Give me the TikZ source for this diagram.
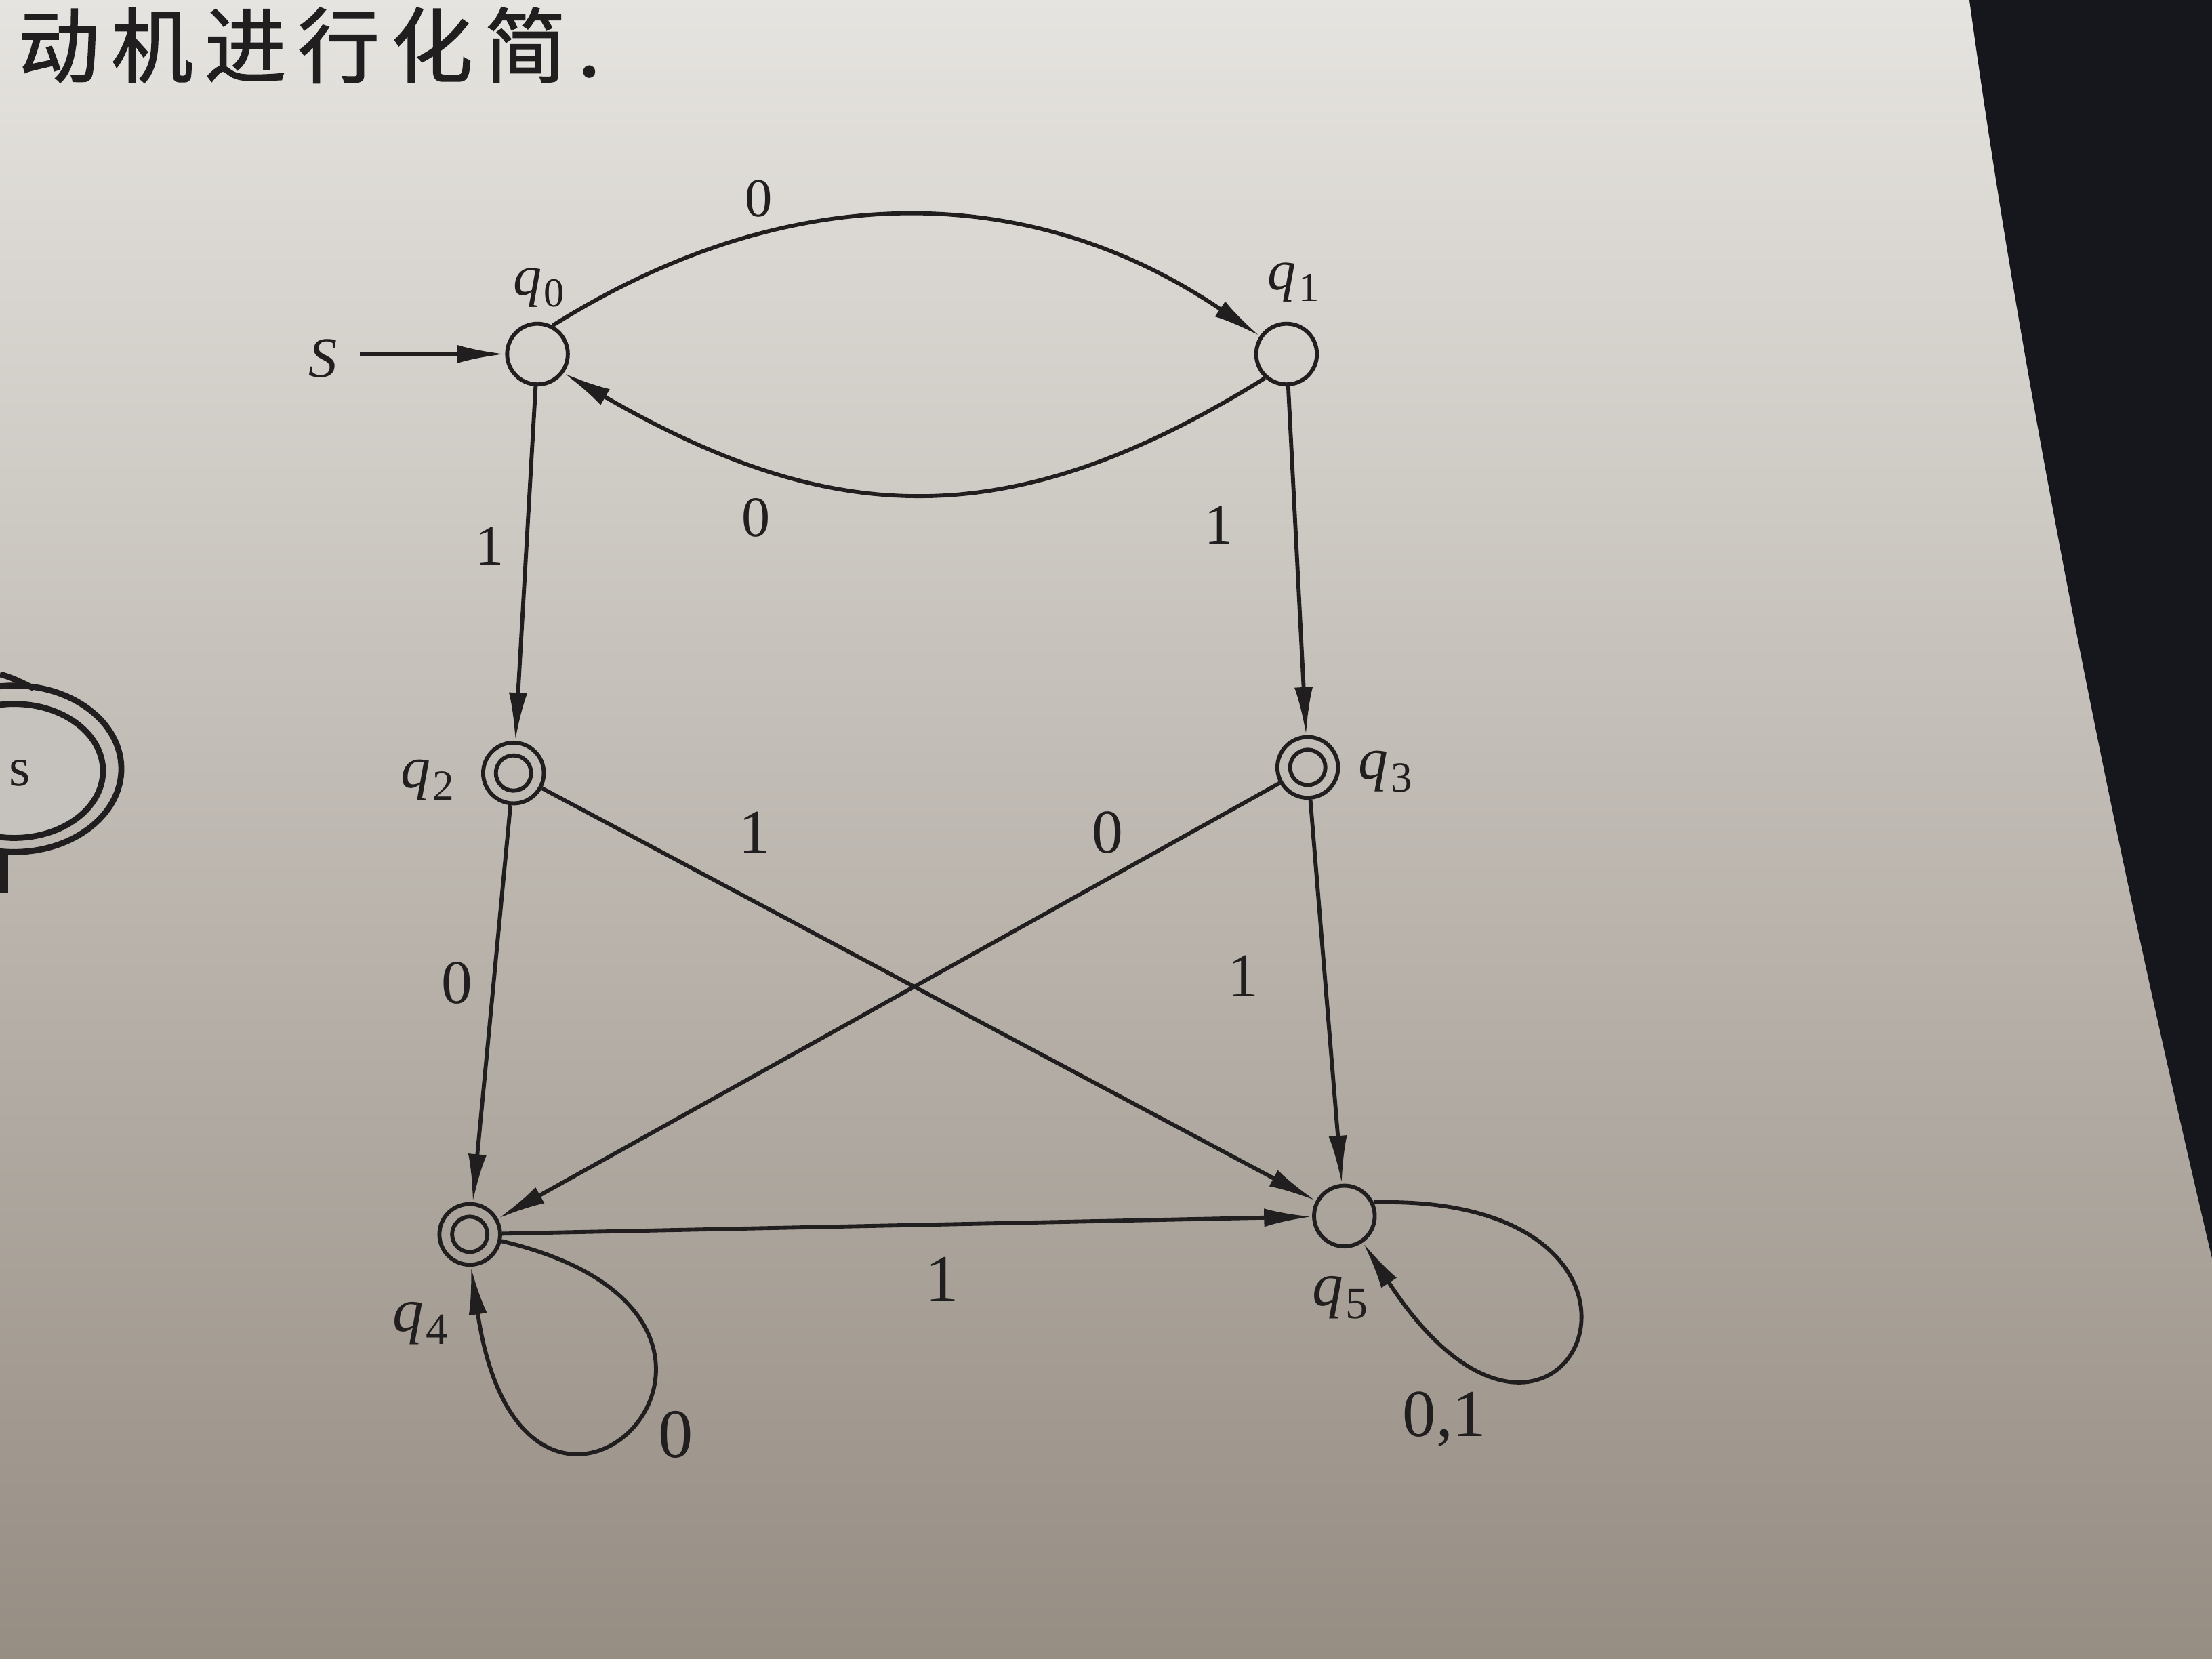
\documentclass[tikz,border=0pt]{standalone}
\usepackage{fontspec}
\usepackage{graphicx}
\setmainfont{Liberation Serif}
\newfontfamily\cjk[LetterSpace=14,AutoFakeBold=1.3]{Noto Sans CJK SC}
\usetikzlibrary{arrows.meta}
\newcommand{\qlab}[1]{\textit{q}\kern0.04em\raisebox{-0.45ex}{\scalebox{0.72}{#1}}}
\definecolor{pagetop}{RGB}{230,228,224}
\definecolor{pagemid}{RGB}{212,208,201}
\definecolor{pagebot}{RGB}{150,141,131}
\definecolor{darkbg}{RGB}{22,23,28}
\definecolor{ink}{RGB}{32,30,30}
\definecolor{halftone}{RGB}{198,195,190}
\tikzset{
  st/.style={circle, draw=ink, line width=0.8pt, minimum size=0.43cm, inner sep=0pt},
  acc/.style={st, path picture={\draw[ink, line width=0.8pt] (path picture bounding box.center) circle[radius=0.125cm];}},
  ar/.style={draw=ink, line width=0.8pt, -{Latex[length=3.4mm,width=1.3mm]}},
  lbl/.style={inner sep=0pt, text=ink, font=\fontsize{#1}{#1}\selectfont},
}
\begin{document}
\begin{tikzpicture}[x=0.01cm,y=0.01cm]
\useasboundingbox (0,0) rectangle (1568,1176);
\shade[top color=pagetop, middle color=pagemid, bottom color=pagebot] (0,0) rectangle (1568,1176);
\fill[darkbg] (1396,1176) .. controls (1420,1000) and (1470,700) .. (1568,284) -- (1568,1176) -- cycle;
% partial node at the left edge
\draw[ink, line width=1.2pt] (10,631) ellipse [x radius=76, y radius=59];
\draw[ink, line width=1.2pt, fill=halftone] (10,629.5) ellipse [x radius=63, y radius=47.5];
\node[lbl=11] (sleft) at (14,628) {s};
\draw[ink, line width=1.2pt] (0,698) .. controls (8,696) and (16,692) .. (24,688);
\draw[ink, line width=1.8pt] (2.5,572) -- (2.5,543);
% title fragment
\node[anchor=west, inner sep=0pt, text=ink, font=\cjk\bfseries\fontsize{16.5}{16.5}\selectfont] (title) at (12,1144) {动机进行化简.};
% states
\node[st] (q0) at (381,925) {};
\node[st] (q1) at (912,925) {};
\node[acc] (q2) at (364,628) {};
\node[acc] (q3) at (927,632) {};
\node[acc] (q4) at (333,301) {};
\node[st] (q5) at (953,314) {};
% state labels
\node[lbl=11.5] (lq0) at (382,972) {\qlab{0}};
\node[lbl=11.5] (lq1) at (917,976) {\qlab{1}};
\node[lbl=12] (lq2) at (303,623) {\qlab{2}};
\node[lbl=12] (lq3) at (982,629) {\qlab{3}};
\node[lbl=12.5] (lq4) at (298,238) {\qlab{4}};
\node[lbl=12.5] (lq5) at (950,256) {\qlab{5}};
\node[lbl=11.5] (lS) at (229,922) {\textit{S}};
\coordinate (s0) at (255,925);
% transitions
\draw[ar] (s0) -- (q0);
\draw[ar] (q0.62) .. controls (560,1051) and (731,1048) .. (q1.146);
\draw[ar] (q1.228) .. controls (712,793) and (586,804) .. (q0.-36);
\draw[ar] (q0) -- (q2);
\draw[ar] (q1) -- (q3);
\draw[ar] (q2) -- (q4);
\draw[ar] (q3) -- (q5);
\draw[ar] (q2) -- (q5);
\draw[ar] (q3) -- (q4);
\draw[ar] (q4) -- (q5);
\draw[ar] (q4.-12) .. controls (595,240) and (372,18) .. (q4.-88);
\draw[ar] (q5.25) .. controls (1222,330) and (1108,76) .. (q5.-55);
% transition labels
\node[lbl=11] (e01) at (538,1035) {0};
\node[lbl=11.5] (e10) at (536,809) {0};
\node[lbl=11.5] (e02) at (347,789) {1};
\node[lbl=11.5] (e13) at (864,804) {1};
\node[lbl=12.5] (e24) at (324,479) {0};
\node[lbl=12.5] (e25) at (535,586) {1};
\node[lbl=12.5] (e34) at (785,586) {0};
\node[lbl=12.5] (e35) at (881,484) {1};
\node[lbl=13.5] (e45) at (668,269) {1};
\node[lbl=14] (e44) at (479,159) {0};
\node[lbl=13.5] (e55) at (1024,170) {0,1};
\end{tikzpicture}
\end{document}
